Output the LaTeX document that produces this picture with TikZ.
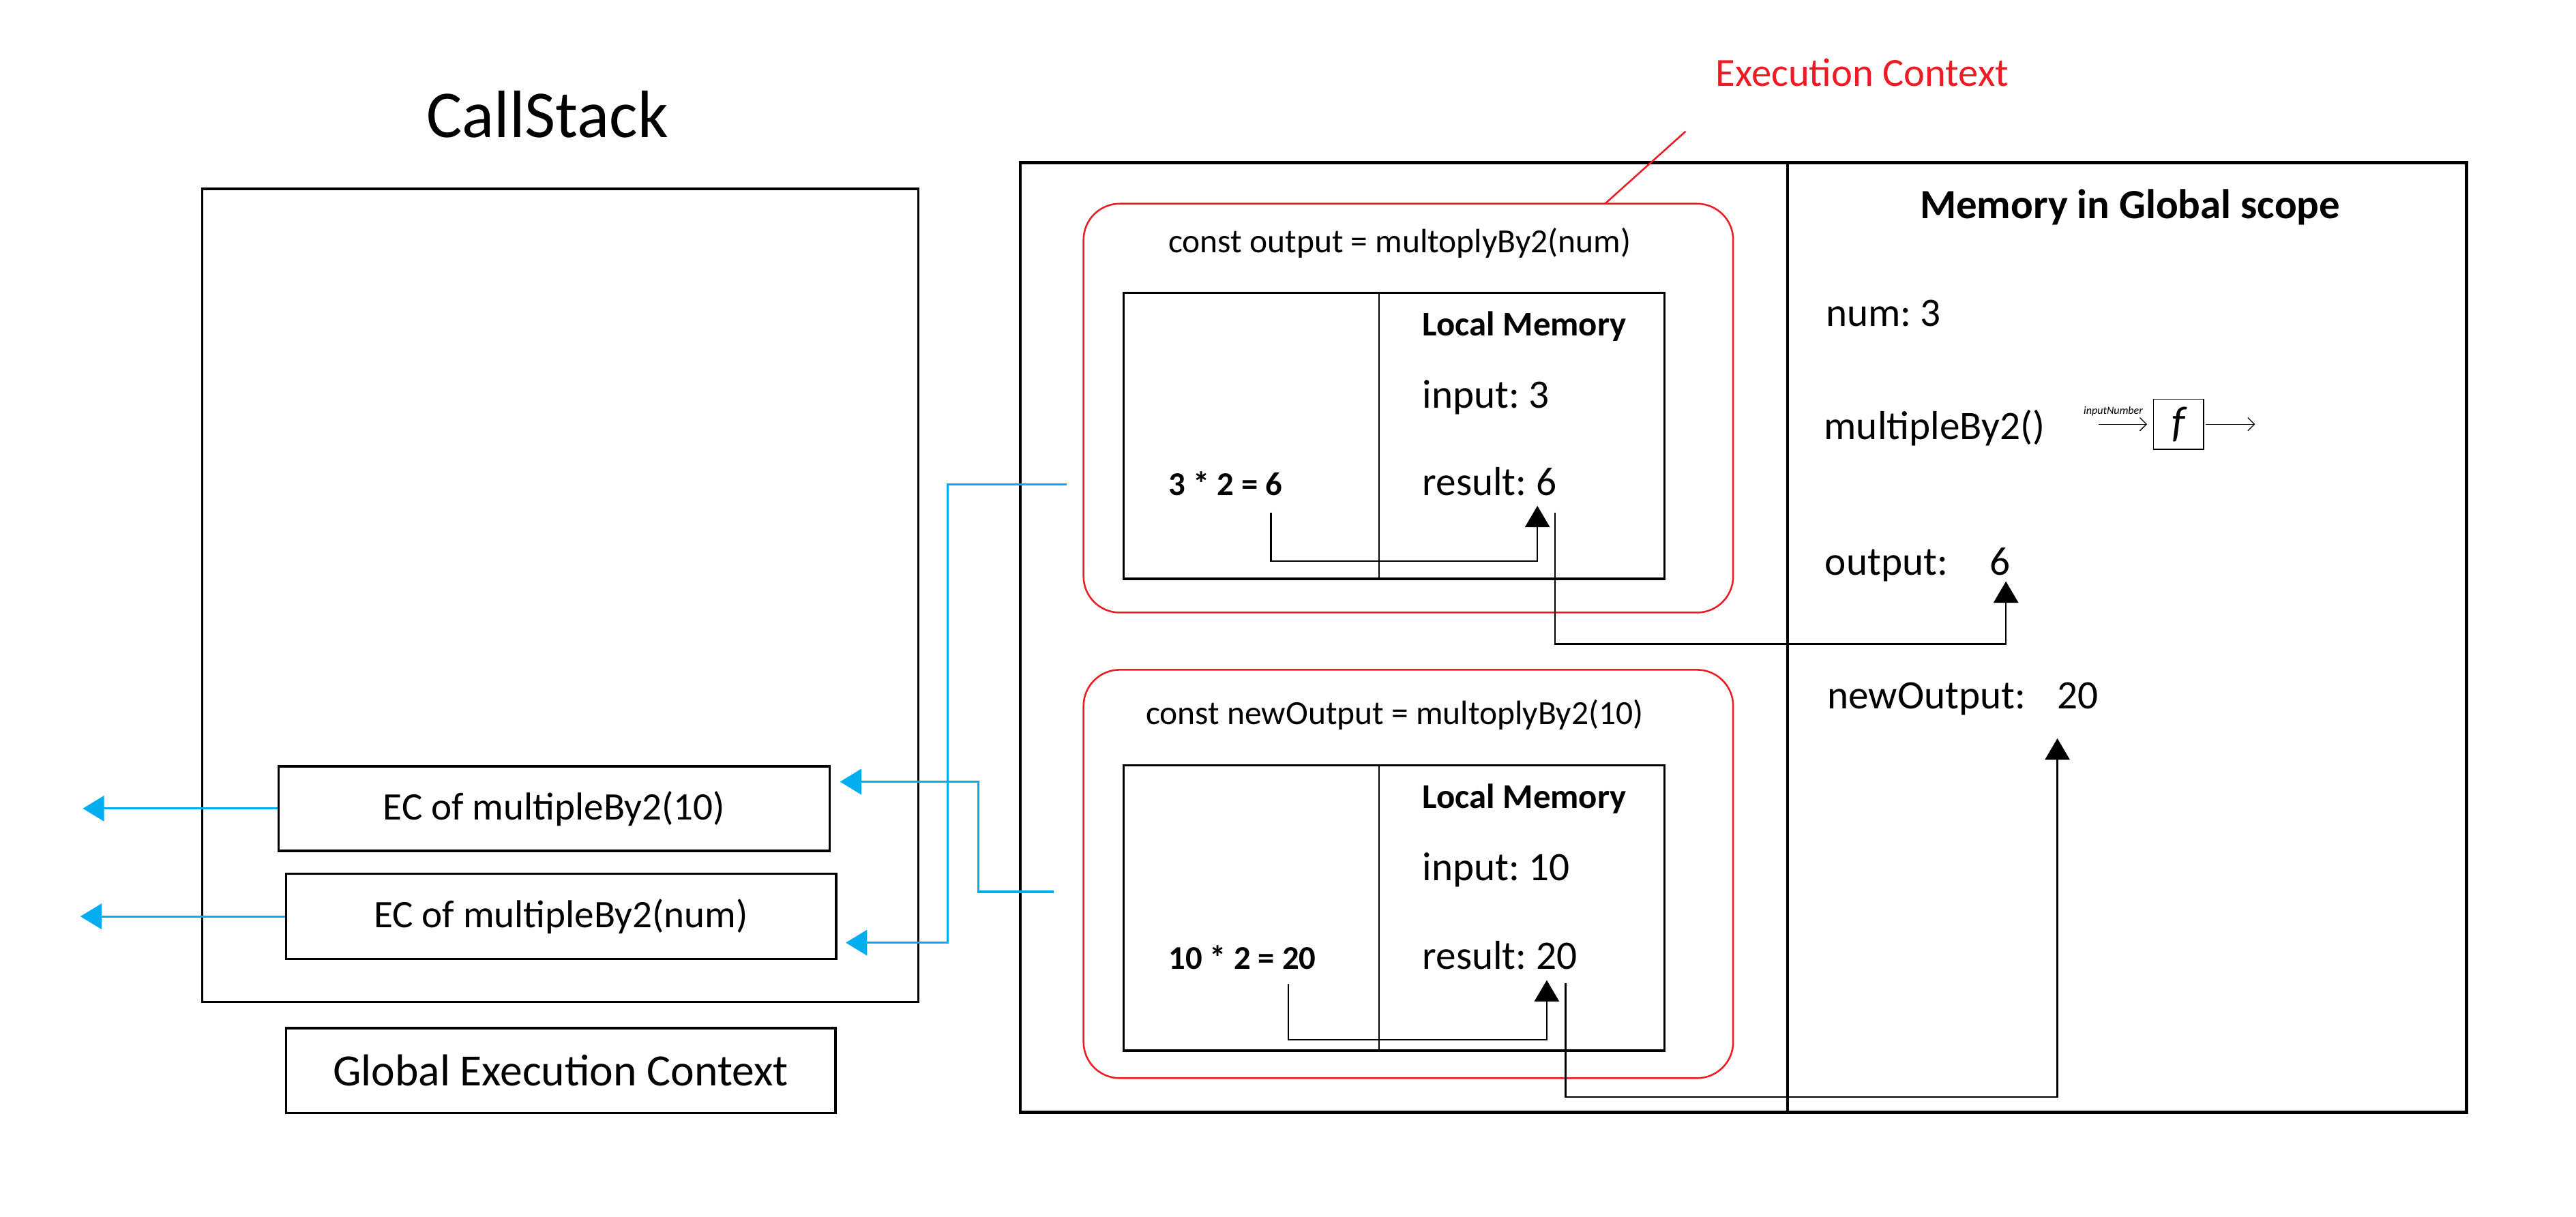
\documentclass[tikz,border=0pt]{standalone}
\usepackage{fontspec}
\setmainfont{Carlito}
\usetikzlibrary{arrows.meta,positioning,calc}
\definecolor{ecred}{HTML}{ED1C24}
\definecolor{callblue}{HTML}{00AEEF}
\newcommand{\fsz}[1]{\fontsize{#1}{#1}\selectfont}
\frenchspacing

\begin{document}
\begin{tikzpicture}[x=0.02cm, y=-0.02cm,
    box/.style={draw, line width=0.8pt, inner sep=0pt},
    ecbox/.style={draw=ecred, line width=0.6pt, rounded corners=0.44cm, inner sep=0pt},
    txt/.style={inner sep=0pt, font=\fsz{14}},
    lbl/.style={inner sep=0pt, font=\fsz{11.7}},
    bold/.style={inner sep=0pt, font=\bfseries\fsz{12}},
    link/.style={line width=0.6pt, -{Triangle[length=2.6mm,width=3mm]}},
    call/.style={draw=callblue, line width=0.75pt, -{Triangle[length=2.6mm,width=3.1mm]}},
    fun/.style={line width=0.3pt, -{Straight Barb[length=0.8mm,width=1.6mm]}}]
    \useasboundingbox (0,0) rectangle (1568,741);

    % ================== Call stack ==================
    \node[inner sep=0pt, font=\fsz{23.2}, anchor=base] (stacktitle) at (333.2,83.7) {CallStack};
    \node[box, minimum width=8.72cm, minimum height=9.9cm] (stack) at (341,362.5) {};
    \node[box, font=\fsz{13.5}, minimum width=6.71cm, minimum height=1.03cm] (ec10) at (337.3,492.3) {EC of multipleBy2(10)};
    \node[box, font=\fsz{13.5}, minimum width=6.7cm, minimum height=1.04cm] (ecnum) at (341.5,558) {EC of multipleBy2(num)};
    \node[box, font=\fsz{15.5}, minimum width=6.69cm, minimum height=1.036cm] (gec) at (341.25,651.9) {Global Execution Context};

    % ================== Execution side ==================
    \node[box, line width=1.1pt, minimum width=17.61cm, minimum height=11.57cm] (exec) at (1061.25,388.2) {};
    \coordinate (split) at (1088,0);
    \draw[line width=0.9pt] (exec.north -| split) -- (exec.south -| split);

    % execution contexts
    \node[ecbox, minimum width=7.91cm, minimum height=4.98cm] (ctx1) at (857.25,248.5) {};
    \node[ecbox, minimum width=7.91cm, minimum height=4.974cm] (ctx2) at (857.25,532.15) {};
    \node[inner sep=0pt, text=ecred, font=\fsz{13.85}, anchor=base west] (ctxlabel) at (1044,52.6) {Execution Context};
    \coordinate (ctxpin) at (1026,80);
    \coordinate (ctxtouch) at (977,124);
    \draw[ecred, line width=0.6pt] (ctxpin) -- (ctxtouch);

    % first context
    \node[lbl, anchor=base] (call1) at (852,153.6) {const output = multoplyBy2(num)};
    \node[box, minimum width=6.59cm, minimum height=3.484cm] (frame1) at (848.55,265.4) {};
    \coordinate (mid) at (839.5,0);
    \draw[line width=0.6pt] (frame1.north -| mid) -- (frame1.south -| mid);
    \node[bold, anchor=base west] (local1) at (865.5,204.5) {Local Memory};
    \node[txt, anchor=base west] (input1) at (865.5,248.3) {input: 3};
    \node[txt, anchor=base west] (result1) at (865.5,301.5) {result: 6};
    \node[bold, font=\bfseries\fsz{11.5}, anchor=base west] (calc1) at (711,301.5) {3 * 2 = 6};

    % second context
    \node[lbl, anchor=base] (call2) at (848.9,441.2) {const newOutput = multoplyBy2(10)};
    \node[box, minimum width=6.59cm, minimum height=3.476cm] (frame2) at (848.55,552.8) {};
    \draw[line width=0.6pt] (frame2.north -| mid) -- (frame2.south -| mid);
    \node[bold, anchor=base west] (local2) at (865.5,492) {Local Memory};
    \node[txt, anchor=base west] (input2) at (865.5,536) {input: 10};
    \node[txt, anchor=base west] (result2) at (865.5,590) {result: 20};
    \node[bold, font=\bfseries\fsz{11.5}, anchor=base west] (calc2) at (711,590) {10 * 2 = 20};

    % global memory
    \node[inner sep=0pt, font=\bfseries\fsz{14.4}, anchor=base] (globalmem) at (1296.5,133) {Memory in Global scope};
    \node[txt, anchor=base west] (num) at (1111,198.5) {num: 3};
    \node[txt, anchor=base west] (fn) at (1110,267.7) {multipleBy2()};
    \node[txt, anchor=base west] (out) at (1110.5,350) {output:\hspace{14.5pt}6};
    \node[txt, anchor=base west] (newout) at (1112,431.5) {newOutput:\hspace{11pt}20};

    % function sketch
    \node[box, line width=0.3pt, minimum width=0.614cm, minimum height=0.612cm, font=\itshape\fsz{15}] (fbox) at (1326,258.3) {f};
    \node[inner sep=0pt, font=\itshape\fsz{3.8}, anchor=base west] (argname) at (1268,252) {inputNumber};
    \draw[fun] ([xshift=-0.66cm]fbox.west) -- ([xshift=-0.07cm]fbox.west);
    \draw[fun] ([xshift=0.02cm]fbox.east) -- ++(30,0);

    % ================== Value arcs ==================
    \coordinate (calc1out) at (773.7,312);
    \coordinate (result1in) at (935.8,308);
    \draw[link] (calc1out) -- ++(0,29.7) -| (result1in);
    \coordinate (result1out) at (946.5,312);
    \coordinate (outin) at (1221,354);
    \draw[link] (result1out) -- ++(0,80) -| (outin);

    \coordinate (calc2out) at (784.2,599);
    \coordinate (result2in) at (941.5,596.8);
    \draw[link] (calc2out) -- ++(0,34) -| (result2in);
    \coordinate (result2out) at (953,598.8);
    \coordinate (newoutin) at (1252.3,449.6);
    \draw[link] (result2out) -- ++(0,69.2) -| (newoutin);

    % ================== Call stack arcs ==================
    \coordinate (ctx1tap) at (649.3,294.8);
    \coordinate (ecnumin) at (514.8,574);
    \draw[call] (ctx1tap) -- ++(-72.3,0) |- (ecnumin);
    \coordinate (ctx2tap) at (641.4,543);
    \coordinate (ec10in) at (511.3,476);
    \draw[call] (ctx2tap) -- ++(-45.9,0) |- (ec10in);

    \coordinate (ec10away) at (50.4,492.3);
    \draw[call] (ec10.west) -- (ec10away);
    \coordinate (ecnumaway) at (48.9,558);
    \draw[call] (ecnum.west) -- (ecnumaway);
\end{tikzpicture}
\end{document}
